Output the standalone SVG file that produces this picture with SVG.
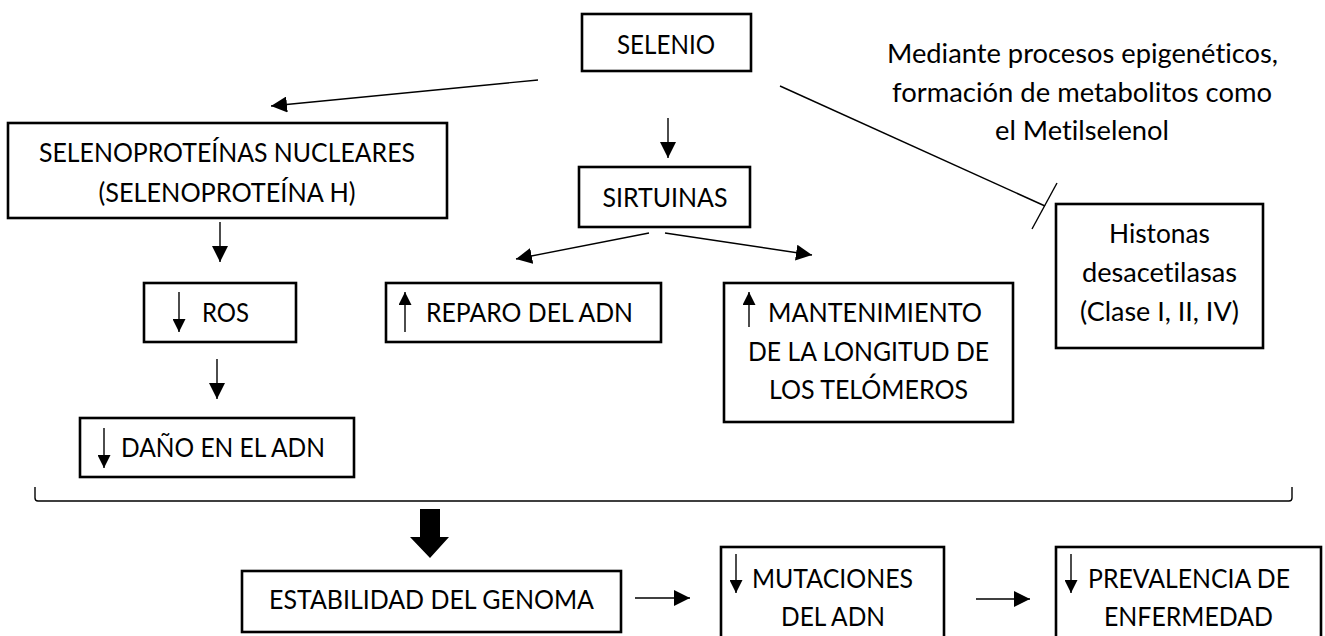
<svg xmlns="http://www.w3.org/2000/svg" width="1325" height="636" viewBox="0 0 1325 636">
<style>
.box{fill:#fff;stroke:#000;stroke-width:2.6}
.ln{fill:none;stroke:#000;stroke-width:1.4}
.t{font-family:Lato,"Open Sans","Liberation Sans",sans-serif;font-size:27.5px;fill:#000;font-variant-ligatures:none}
.m{text-anchor:middle}
</style>
<defs>
<marker id="ah" viewBox="0 0 16 16" refX="16" refY="8" markerWidth="16" markerHeight="16" markerUnits="userSpaceOnUse" orient="auto"><path d="M0,0 L16,8 L0,16 z" fill="#000"/></marker>
<marker id="ahs" viewBox="0 0 13 13" refX="13" refY="6.5" markerWidth="13" markerHeight="13" markerUnits="userSpaceOnUse" orient="auto"><path d="M0,0 L13,6.5 L0,13 z" fill="#000"/></marker>
</defs>
<rect width="1325" height="636" fill="#fff"/>
<g id="connectors">
<line class="ln" x1="538" y1="80" x2="271" y2="106" marker-end="url(#ah)"/>
<line class="ln" x1="668" y1="118" x2="668" y2="158" marker-end="url(#ah)"/>
<line class="ln" x1="220" y1="222" x2="220" y2="262" marker-end="url(#ah)"/>
<line class="ln" x1="217" y1="359" x2="217" y2="399" marker-end="url(#ah)"/>
<line class="ln" x1="649" y1="233" x2="516" y2="259" marker-end="url(#ah)"/>
<line class="ln" x1="665" y1="233" x2="812" y2="255" marker-end="url(#ah)"/>
<line class="ln" x1="780" y1="86" x2="1045" y2="206"/>
<line class="ln" x1="1057" y1="183" x2="1032" y2="229"/>
<path class="ln" d="M35,487 L35,498 Q35,501 38,501 L1289,501 Q1292,501 1292,498 L1292,487"/>
<polygon points="420,509 440,509 440,537 449,537 430,558 410,537 420,537" fill="#000"/>
<line class="ln" x1="635" y1="598" x2="690" y2="598" marker-end="url(#ah)"/>
<line class="ln" x1="976" y1="599" x2="1030" y2="599" marker-end="url(#ah)"/>
</g>
<g id="selenio">
<rect class="box" x="582" y="14" width="169" height="57"/>
<text class="t m" x="666" y="54" textLength="98" lengthAdjust="spacingAndGlyphs">SELENIO</text>
</g>
<g id="selenoproteinas">
<rect class="box" x="8" y="123" width="439" height="95"/>
<text class="t m" x="227" y="162" textLength="376" lengthAdjust="spacingAndGlyphs">SELENOPROTEÍNAS NUCLEARES</text>
<text class="t m" x="227" y="202" textLength="257" lengthAdjust="spacingAndGlyphs">(SELENOPROTEÍNA H)</text>
</g>
<g id="sirtuinas">
<rect class="box" x="579" y="167" width="171" height="60"/>
<text class="t m" x="665" y="207" textLength="125" lengthAdjust="spacingAndGlyphs">SIRTUINAS</text>
</g>
<g id="ros">
<rect class="box" x="144" y="283" width="152" height="59"/>
<line class="ln" x1="179" y1="292" x2="179" y2="332" marker-end="url(#ahs)"/>
<text class="t" x="202" y="322" textLength="47" lengthAdjust="spacingAndGlyphs">ROS</text>
</g>
<g id="reparo">
<rect class="box" x="386" y="283" width="275" height="59"/>
<line class="ln" x1="405" y1="332" x2="405" y2="292" marker-end="url(#ahs)"/>
<text class="t" x="426" y="322" textLength="207" lengthAdjust="spacingAndGlyphs">REPARO DEL ADN</text>
</g>
<g id="mantenimiento">
<rect class="box" x="724" y="283" width="289" height="139"/>
<line class="ln" x1="749" y1="327" x2="749" y2="292" marker-end="url(#ahs)"/>
<text class="t" x="768" y="322" textLength="214" lengthAdjust="spacingAndGlyphs">MANTENIMIENTO</text>
<text class="t m" x="868.5" y="361" textLength="241" lengthAdjust="spacingAndGlyphs">DE LA LONGITUD DE</text>
<text class="t m" x="868.5" y="399" textLength="199" lengthAdjust="spacingAndGlyphs">LOS TELÓMEROS</text>
</g>
<g id="histonas">
<rect class="box" x="1056" y="204" width="207" height="144"/>
<text class="t m" x="1159.5" y="243" textLength="101" lengthAdjust="spacingAndGlyphs">Histonas</text>
<text class="t m" x="1159.5" y="282" textLength="155" lengthAdjust="spacingAndGlyphs">desacetilasas</text>
<text class="t m" x="1159.5" y="321" textLength="159" lengthAdjust="spacingAndGlyphs">(Clase I, II, IV)</text>
</g>
<g id="nota">
<text class="t m" x="1082.5" y="63" textLength="391" lengthAdjust="spacingAndGlyphs">Mediante procesos epigenéticos,</text>
<text class="t m" x="1082" y="102" textLength="380" lengthAdjust="spacingAndGlyphs">formación de metabolitos como</text>
<text class="t m" x="1082" y="140" textLength="174" lengthAdjust="spacingAndGlyphs">el Metilselenol</text>
</g>
<g id="dano">
<rect class="box" x="80" y="418" width="274" height="59"/>
<line class="ln" x1="104" y1="428" x2="104" y2="468" marker-end="url(#ahs)"/>
<text class="t" x="121" y="457" textLength="204" lengthAdjust="spacingAndGlyphs">DAÑO EN EL ADN</text>
</g>
<g id="estabilidad">
<rect class="box" x="242" y="571" width="379" height="61"/>
<text class="t m" x="431.5" y="609" textLength="325" lengthAdjust="spacingAndGlyphs">ESTABILIDAD DEL GENOMA</text>
</g>
<g id="mutaciones">
<rect class="box" x="721" y="547" width="223" height="100"/>
<line class="ln" x1="736" y1="554" x2="736" y2="593" marker-end="url(#ahs)"/>
<text class="t" x="752" y="588" textLength="161" lengthAdjust="spacingAndGlyphs">MUTACIONES</text>
<text class="t m" x="833" y="626" textLength="104" lengthAdjust="spacingAndGlyphs">DEL ADN</text>
</g>
<g id="prevalencia">
<rect class="box" x="1056" y="547" width="265" height="100"/>
<line class="ln" x1="1071" y1="554" x2="1071" y2="593" marker-end="url(#ahs)"/>
<text class="t" x="1088" y="588" textLength="202" lengthAdjust="spacingAndGlyphs">PREVALENCIA DE</text>
<text class="t m" x="1188.5" y="626" textLength="169" lengthAdjust="spacingAndGlyphs">ENFERMEDAD</text>
</g>
</svg>
